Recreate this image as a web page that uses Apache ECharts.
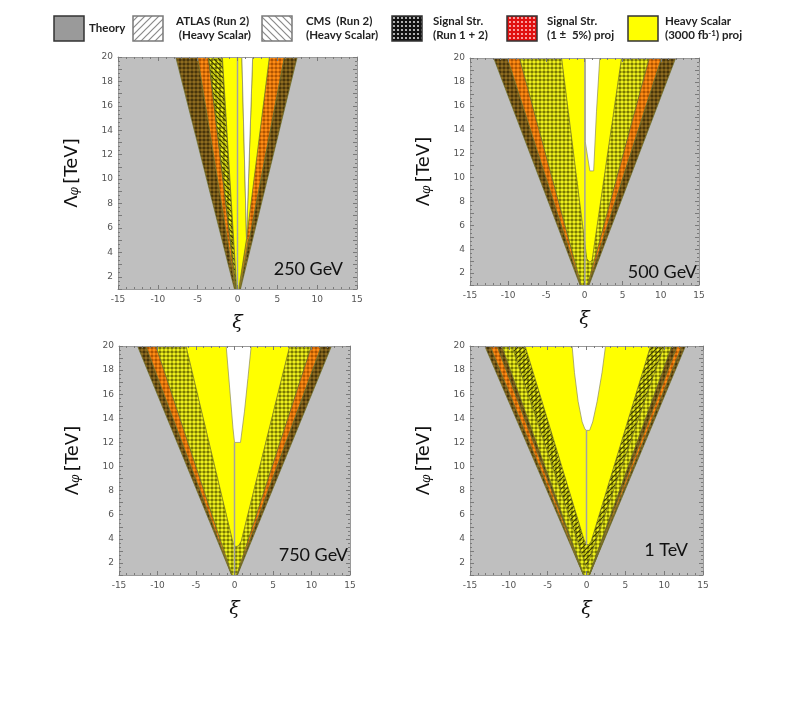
<!DOCTYPE html>
<html>
<head>
<meta charset="utf-8">
<script src="https://cdn.jsdelivr.net/npm/echarts@6/dist/echarts.min.js"></script>
<style>
  html, body { margin: 0; background: #fff; }
  #chart { width: 810px; height: 711px; }
</style>
</head>
<body>
<div id="chart"></div>
<script>
// axis ranges
const xiRange = [-15, 15]
const lambdaRange = [1, 20]

// panel titles
const massLabels = ['250 GeV', '500 GeV', '750 GeV', '1 TeV']

// regions per panel: [fill kind, [[xi, Lambda], ...]]
const regions250 = [
  ['dark', [[0, 0], [-7.75, 20], [-5.0, 20]]],
  ['orange', [[0, 0], [-5.0, 20], [-3.65, 20]]],
  ['ycheck', [[0, 0], [-3.65, 20], [-1.9, 20]]],
  ['hatchC', [[0, 0], [-3.65, 20], [-1.9, 20]]],
  ['orange', [[0, 0], [4.0, 20], [5.9, 20]]],
  ['dark', [[0, 0], [5.9, 20], [7.5, 20]]],
  ['orangeSolid', [[0, 0], [1.13, 5.1], [1.35, 5.1], [0.3, 1.0]]],
  ['yellow', [[0, 0], [-1.9, 20], [0.55, 20], [1.13, 5.1], [0.2, 1.2]]],
  ['yellow', [[1.13, 5.1], [1.9, 20], [4.0, 20]]],
  ['white', [[1.13, 5.1], [0.55, 20], [1.9, 20]]]
]
const zero250 = [[0, 1], [0, 20]]

const regions500 = [
  ['dark', [[0, 0], [-11.9, 20], [-10.1, 20]]],
  ['orange', [[0, 0], [-10.1, 20], [-8.5, 20]]],
  ['ycheck', [[0, 0], [-8.5, 20], [8.5, 20]]],
  ['orange', [[0, 0], [8.5, 20], [10.1, 20]]],
  ['dark', [[0, 0], [10.1, 20], [11.95, 20]]],
  ['yellow', [[0.3, 3.2], [-3.0, 20], [4.85, 20], [1.0, 3.1], [0.7, 2.9]]],
  ['white', [[0.1, 20], [0.1, 13.0], [0.7, 10.55], [1.2, 10.55], [1.57, 15.5], [2.0, 20]]]
]
const zero500 = [[0.05, 1], [0.05, 20]]

const regions750 = [
  ['dark', [[0, 0.4], [-12.6, 20], [-11.5, 20]]],
  ['orange', [[0, 0.4], [-11.5, 20], [-10.2, 20]]],
  ['ycheck', [[0, 0.4], [-10.2, 20], [10.0, 20]]],
  ['orange', [[0, 0.4], [10.0, 20], [11.3, 20]]],
  ['dark', [[0, 0.4], [11.3, 20], [12.6, 20]]],
  ['yellow', [[-6.3, 20], [-0.2, 3.7], [0.1, 3.35], [0.5, 3.4], [0.87, 3.8], [7.17, 20]]],
  ['white', [[-1.08, 20], [-0.2, 13.2], [0, 12.0], [0.78, 12.0], [1.3, 14.6], [1.74, 17.3], [2.17, 20]]]
]
const zero750 = [[0, 1], [0, 12]]

const regions1000 = [
  ['dark', [[0, 0.4], [-13.1, 20], [-12.4, 20]]],
  ['orange', [[0, 0.4], [-12.4, 20], [-11.5, 20]]],
  ['dark', [[0, 0.4], [-11.5, 20], [-10.9, 20]]],
  ['ycheck', [[0, 0.4], [-10.9, 20], [11.0, 20]]],
  ['dark', [[0, 0.4], [11.0, 20], [11.7, 20]]],
  ['orange', [[0, 0.4], [11.7, 20], [12.3, 20]]],
  ['dark', [[0, 0.4], [12.3, 20], [12.75, 20]]],
  ['hatchA', [[0, 1.6], [-9.6, 20], [9.96, 20]]],
  ['yellow', [[-7.9, 20], [-0.3, 3.9], [0, 3.55], [0.3, 3.5], [0.6, 3.8], [8.25, 20]]],
  ['white', [[-1.85, 20], [-1.55, 17.8], [-1.08, 15.4], [-0.56, 13.7], [-0.2, 13.1], [0, 13.0], [0.4, 13.0], [0.8, 13.7], [1.37, 15.4], [2.0, 17.8], [2.45, 20]]]
]
const zero1000 = [[0, 3.5], [0, 13]]

// legend entries
const legendLines = [
  ['Theory'],
  ['ATLAS (Run 2)', ' (Heavy Scalar)'],
  ['CMS  (Run 2)', '(Heavy Scalar)'],
  ['Signal Str.', '(Run 1 + 2)'],
  ['Signal Str.', '(1 \u00b1  5%) proj'],
  ['Heavy Scalar', '(3000 fb{sup|-1}) proj']
]
const legendKinds = ['theory', 'atlas', 'cms', 'run12', 'proj', 'heavy']

// ---------- patterns ----------
function checker(bg, dot, size, r) {
  const c = document.createElement('canvas')
  c.width = c.height = size
  const g = c.getContext('2d')
  g.fillStyle = bg
  g.fillRect(0, 0, size, size)
  g.fillStyle = dot
  g.beginPath()
  g.arc(size / 2, size / 2, r, 0, Math.PI * 2)
  g.fill()
  return { image: c, repeat: 'repeat' }
}

function hatch(color, dir, bg, size, w) {
  const c = document.createElement('canvas')
  c.width = c.height = size
  const g = c.getContext('2d')
  if (bg) {
    g.fillStyle = bg
    g.fillRect(0, 0, size, size)
  }
  g.strokeStyle = color
  g.lineWidth = w
  g.beginPath()
  if (dir > 0) {
    g.moveTo(0, size); g.lineTo(size, 0)
    g.moveTo(-1, 1); g.lineTo(1, -1)
    g.moveTo(size - 1, size + 1); g.lineTo(size + 1, size - 1)
  } else {
    g.moveTo(0, 0); g.lineTo(size, size)
    g.moveTo(-1, size - 1); g.lineTo(1, size + 1)
    g.moveTo(size - 1, -1); g.lineTo(size + 1, 1)
  }
  g.stroke()
  return { image: c, repeat: 'repeat' }
}

const fills = {
  dark: checker('#3e2e08', '#8e6c20', 4, 1.8),
  orange: checker('#a44c00', '#ff8c14', 4, 1.8),
  ycheck: checker('#686800', '#eef01c', 4, 1.8),
  hatchA: hatch('#3a3a00', 1, null, 5, 1.1),
  hatchC: hatch('#3a3a00', -1, null, 5, 1.1),
  yellow: '#ffff00',
  orangeSolid: '#ff9a10',
  white: '#ffffff'
}

const legendFills = {
  theory: '#9a9a9a',
  atlas: hatch('#8a8a8a', 1, '#ffffff', 7, 1.2),
  cms: hatch('#8a8a8a', -1, '#ffffff', 7, 1.2),
  run12: checker('#111111', '#d8d8d8', 4, 1.1),
  proj: checker('#e01010', '#ffc0c0', 4, 1.1),
  heavy: '#ffff00'
}

// ---------- layout ----------
const grids = [
  { left: 118, top: 57, width: 239, height: 232 },
  { left: 470, top: 58, width: 229, height: 227 },
  { left: 119, top: 346, width: 231, height: 229 },
  { left: 470, top: 346, width: 233, height: 229 }
]
const panelRegions = [regions250, regions500, regions750, regions1000]
const panelZero = [zero250, zero500, zero750, zero1000]
const labelPos = [[343, 269], [697, 272], [348, 555], [688, 550]]

const tickStyle = { color: '#7a7a7a', width: 1 }

const xAxes = []
const yAxes = []
grids.forEach((g, i) => {
  const base = {
    type: 'value', gridIndex: i, min: xiRange[0], max: xiRange[1], interval: 5, z: 10,
    axisLine: { show: true, onZero: false, lineStyle: { color: '#9a9a9a' } },
    axisTick: { inside: true, length: 4, lineStyle: tickStyle },
    minorTick: { show: true, splitNumber: 5, length: 2, lineStyle: tickStyle },
    splitLine: { show: false }
  }
  xAxes.push(Object.assign({}, base, {
    position: 'bottom',
    axisLabel: { fontSize: 9, color: '#555', margin: 6, fontFamily: 'DejaVu Sans' },
    name: '\u03be', nameLocation: 'middle', nameGap: 25,
    nameTextStyle: { fontSize: 19, fontStyle: 'italic', fontFamily: 'DejaVu Serif', color: '#111' }
  }))
  xAxes.push(Object.assign({}, base, { position: 'top', axisLabel: { show: false } }))

  const ybase = {
    type: 'value', gridIndex: i, min: lambdaRange[0], max: lambdaRange[1], interval: 1, z: 10,
    axisLine: { show: true, onZero: false, lineStyle: { color: '#9a9a9a' } },
    axisTick: { inside: true, length: 4, lineStyle: tickStyle },
    minorTick: { show: true, splitNumber: 3, length: 2, lineStyle: tickStyle },
    splitLine: { show: false }
  }
  yAxes.push(Object.assign({}, ybase, {
    position: 'left',
    axisLabel: {
      fontSize: 9, color: '#555', margin: 5, fontFamily: 'DejaVu Sans',
      formatter: v => (v % 2 === 0 ? String(v) : '')
    },
    name: '{l|\u039b}{s|\u03c6} {l|[TeV]}', nameLocation: 'middle', nameRotate: 90, nameGap: 37,
    nameTextStyle: {
      color: '#111',
      rich: {
        l: { fontSize: 18, fontFamily: 'DejaVu Sans', color: '#111', lineHeight: 22, verticalAlign: 'bottom' },
        s: { fontSize: 12, fontStyle: 'italic', fontFamily: 'DejaVu Serif', color: '#111', lineHeight: 12, verticalAlign: 'bottom' }
      }
    }
  }))
  yAxes.push(Object.assign({}, ybase, { position: 'right', axisLabel: { show: false } }))
})

const series = []
panelRegions.forEach((regions, i) => {
  series.push({
    type: 'custom',
    xAxisIndex: i * 2,
    yAxisIndex: i * 2,
    clip: true,
    silent: true,
    animation: false,
    data: regions.map(r => r[1][1]),
    renderItem: (params, api) => {
      const r = regions[params.dataIndex]
      return {
        type: 'polygon',
        shape: { points: r[1].map(p => api.coord(p)) },
        style: {
          fill: fills[r[0]],
          stroke: r[0] === 'white' ? '#8c8c60' : '#6e6e28',
          lineWidth: 0.7
        }
      }
    }
  })
  series.push({
    type: 'line',
    xAxisIndex: i * 2,
    yAxisIndex: i * 2,
    data: panelZero[i],
    symbol: 'none',
    silent: true,
    animation: false,
    lineStyle: { color: '#a2a2a2', width: 1.5 }
  })
})

// ---------- legend + panel labels ----------
const graphic = []
const boxX = [54, 133, 262, 392, 507, 628]
const textX = [89, 176, 306, 433, 547, 665]
legendKinds.forEach((k, i) => {
  graphic.push({
    type: 'rect',
    shape: { x: boxX[i], y: 16, width: 30, height: 25 },
    style: {
      fill: legendFills[k],
      stroke: k === 'atlas' || k === 'cms' ? '#7a7a7a' : '#333',
      lineWidth: 1.5
    }
  })
  const lines = legendLines[i]
  lines.forEach((t, j) => {
    graphic.push({
      type: 'text',
      style: {
        text: t,
        x: textX[i],
        y: lines.length === 1 ? 28.5 : 21.7 + j * 13.3,
        verticalAlign: 'middle',
        fill: '#222',
        font: 'bold 11.5px Lato',
        rich: {
          sup: { fontSize: 8, fontWeight: 'bold', fontFamily: 'Lato', fill: '#222', verticalAlign: 'top' }
        }
      }
    })
  })
})
massLabels.forEach((t, i) => {
  graphic.push({
    type: 'text',
    style: {
      text: t,
      x: labelPos[i][0],
      y: labelPos[i][1],
      align: 'right',
      verticalAlign: 'middle',
      fill: '#111',
      font: '18px Lato'
    },
    z: 100
  })
})

const chart = echarts.init(document.getElementById('chart'))
chart.setOption({
  backgroundColor: '#ffffff',
  animation: false,
  grid: grids.map(g => Object.assign({ show: true, backgroundColor: '#bfbfbf', borderWidth: 0 }, g)),
  xAxis: xAxes,
  yAxis: yAxes,
  series: series,
  graphic: graphic
})
</script>
</body>
</html>
